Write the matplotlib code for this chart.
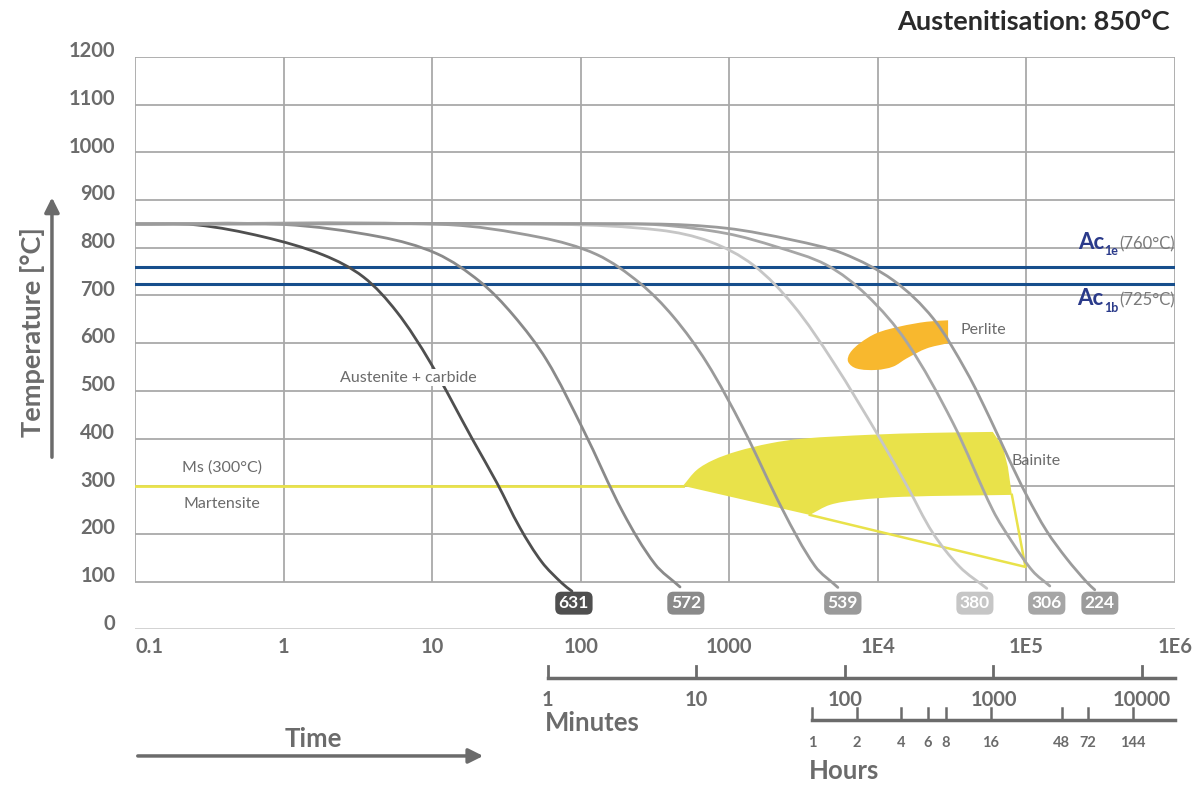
import numpy as np
import matplotlib.pyplot as plt
import matplotlib.transforms as mtransforms
from matplotlib.patches import FancyArrowPatch, PathPatch
from matplotlib.path import Path

plt.rcParams['font.family'] = ['Lato', 'DejaVu Sans']

# cooling curves: time [s], temperature [C]
t_631 = [0.1, 0.26, 0.73, 1.85, 3.44, 5.77, 9.66, 18.8, 27.3, 39.0, 54.8, 74.7, 87.3]
T_631 = [850, 848, 823, 785, 739, 666, 561, 397, 307, 213, 141, 97, 80]
t_572 = [0.1, 0.995, 4.45, 10.7, 21.0, 35.1, 58.9, 103.5, 192, 316, 466]
T_572 = [850, 849, 823, 788, 729, 659, 565, 420, 246, 137, 89]
t_539 = [0.1, 11.8, 53.1, 128, 250, 419, 703, 1233, 2294, 3770, 5380]
T_539 = [850, 849, 822, 786, 726, 656, 560, 423, 250, 133, 88]
t_380 = [0.1, 72, 341, 740, 1448, 2690, 5000, 10300, 15700, 23460, 35600, 54100]
T_380 = [850, 849, 837, 813, 764, 680, 561, 401, 301, 202, 131, 86]
t_306 = [0.1, 135, 341, 959, 2080, 4515, 8390, 15600, 32000, 59400, 81000, 110400, 143700]
T_306 = [850, 850, 848, 830, 802, 764, 701, 603, 433, 250, 181, 122, 91]
t_224 = [0.1, 292, 959, 2690, 5840, 12680, 23550, 39540, 56700, 77300, 100700, 137000,
         187000, 254700, 288400]
T_224 = [850, 850, 841, 816, 788, 732, 652, 540, 443, 353, 280, 206, 148, 99, 83]

hardness = ['631', '572', '539', '380', '306', '224']
hard_t = [90, 510, 5810, 45000, 137000, 312000]
curve_colors = ['#4f4f4f', '#8a8a8a', '#9a9a9a', '#c6c6c6', '#a6a6a6', '#9b9b9b']

# Ms line and transformation zones
ms_t = [0.1, 488]
ms_T = [300, 300]
bainite_top_t = [488, 603, 780, 1120, 1875, 3140, 8830, 22390, 59400]
bainite_top_T = [301, 334, 355, 373, 390, 400, 408, 412, 414]
bainite_right_t = [59400, 69400, 75000, 79800]
bainite_right_T = [414, 383, 341, 282]
bainite_low_t = [79800, 14800, 7190, 4750, 3485]
bainite_low_T = [282, 278, 271, 261, 240]
bainite_edge_t = [3485, 98500, 79800]
bainite_edge_T = [240, 131, 282]
perlite_t = [29700, 21300, 15600, 12680, 9800, 7190, 6310, 6480, 7570, 9800, 14060, 21300, 29700]
perlite_T = [600, 589, 568, 551, 544, 547, 561, 579, 600, 621, 635, 645, 648]

ac1e, ac1b = 760, 725

temp_ticks = list(range(0, 1300, 100))
time_ticks = [0.1, 1, 10, 100, 1e3, 1e4, 1e5, 1e6]
time_labels = ['0.1', '1', '10', '100', '1000', '1E4', '1E5', '1E6']
minute_ticks = [1, 10, 100, 1000, 10000]
hour_ticks = [1, 2, 4, 6, 8, 16, 48, 72, 144]

grey_txt = '#6b6b6b'
grid_c = '#a9a9a9'
navy = '#174e8c'
yellow = '#e9e24a'
orange = '#f8b82e'


def smooth(t, T, first=True):
    # bezier path through the read points (tangents taken in screen-like units)
    P = np.column_stack([np.log10(t) * 148.6, np.asarray(T, float) * 0.477])
    n = len(P)
    d = np.empty_like(P)
    d[1:-1] = P[2:] - P[:-2]
    d[0] = P[1] - P[0]
    d[-1] = P[-1] - P[-2]
    d /= np.linalg.norm(d, axis=1)[:, None]
    back = lambda p: (10 ** (p[0] / 148.6), p[1] / 0.477)
    verts, codes = [], []
    if first:
        verts.append((t[0], T[0]))
        codes.append(Path.MOVETO)
    for i in range(n - 1):
        L = np.linalg.norm(P[i + 1] - P[i])
        verts += [back(P[i] + d[i] * L / 3), back(P[i + 1] - d[i + 1] * L / 3), (t[i + 1], T[i + 1])]
        codes += [Path.CURVE4] * 3
    return verts, codes


fig = plt.figure(figsize=(12, 7.85), dpi=100)
ax = fig.add_axes([135 / 1200, 155.6 / 785, 1040 / 1200, 572.4 / 785])
ax.set_xscale('log')
ax.set_xlim(0.1, 1e6)
ax.set_ylim(0, 1200)
ax.axis('off')

# grid box (100..1200) and base line at 0
for T in temp_ticks[1:]:
    ax.plot([0.1, 1e6], [T, T], color=grid_c, lw=1.3, zorder=1, solid_capstyle='butt')
for t in time_ticks:
    ax.plot([t, t], [100, 1200], color=grid_c, lw=1.3, zorder=1, solid_capstyle='butt')
ax.plot([0.1, 1e6], [0, 0], color='#cfcfcf', lw=1.3, zorder=1)

# Ac1 lines
ax.plot([0.1, 1e6], [ac1e, ac1e], color=navy, lw=2.2, zorder=3)
ax.plot([0.1, 1e6], [ac1b, ac1b], color=navy, lw=2.2, zorder=3)

# bainite zone: curved top, straight right side, curved bottom, straight back to the nose
v1, c1 = smooth(bainite_top_t, bainite_top_T)
v2 = list(zip(bainite_right_t[1:], bainite_right_T[1:]))
v3, c3 = smooth(bainite_low_t, bainite_low_T, first=False)
verts = v1 + v2 + v3 + [(bainite_top_t[0], bainite_top_T[0])]
codes = c1 + [Path.LINETO] * len(v2) + c3 + [Path.LINETO]
ax.add_patch(PathPatch(Path(verts, codes), fc=yellow, ec='none', zorder=2))
ax.plot(bainite_edge_t, bainite_edge_T, color=yellow, lw=1.8, zorder=2)
ax.plot(ms_t, ms_T, color=yellow, lw=2, zorder=2)

# perlite zone
pv, pc = smooth(perlite_t, perlite_T)
ax.add_patch(PathPatch(Path(pv + [pv[0]], pc + [Path.LINETO]), fc=orange, ec='none', zorder=2))

# cooling curves
curves = [(t_631, T_631), (t_572, T_572), (t_539, T_539), (t_380, T_380), (t_306, T_306), (t_224, T_224)]
for (tt, TT), c in zip(curves, curve_colors):
    v, cd = smooth(tt, TT)
    ax.add_patch(PathPatch(Path(v, cd), fill=False, ec=c, lw=2, zorder=4, capstyle='round'))

for lab, t, c in zip(hardness, hard_t, curve_colors):
    ax.text(t, 55, lab, ha='center', va='center', color='white', fontsize=12.5, fontweight='bold', zorder=6,
            bbox=dict(boxstyle='round,pad=0.2,rounding_size=0.35', fc=c, ec='none'))

# zone labels
ax.text(6.9, 528, 'Austenite + carbide', ha='center', va='center', fontsize=11.5, color=grey_txt, zorder=5,
        bbox=dict(boxstyle='square,pad=0.1', fc='white', ec='none'))
ax.text(0.385, 340, 'Ms (300°C)', ha='center', va='center', fontsize=11.5, color=grey_txt, zorder=5)
ax.text(0.385, 263, 'Martensite', ha='center', va='center', fontsize=11.5, color=grey_txt, zorder=5)
ax.text(36000, 628, 'Perlite', ha='left', va='center', fontsize=11.5, color=grey_txt, zorder=5)
ax.text(79000, 353, 'Bainite', ha='left', va='center', fontsize=11.5, color=grey_txt, zorder=5)

# Ac labels
for yv, sub, val in [(808, '1e', '(760°C)'), (690, '1b', '(725°C)')]:
    a3 = ax.annotate(val, xy=(1.0, yv), xycoords=('axes fraction', 'data'), ha='right', va='center',
                     fontsize=12, color='#7a7a7a', zorder=5)
    a2 = ax.annotate(sub, xy=(0, 0.05), xycoords=a3, xytext=(-1, 0), textcoords='offset points',
                     ha='right', va='center', fontsize=9, fontweight='bold', color='#2a3a8a', zorder=5)
    ax.annotate('Ac', xy=(0, 0.5), xycoords=(a2, a3), xytext=(0, 1), textcoords='offset points',
                ha='right', va='center', fontsize=16, fontweight='bold', color='#2a3a8a', zorder=5)

# y tick labels
ytrans = mtransforms.blended_transform_factory(ax.transAxes, ax.transData)
for T in temp_ticks:
    ax.text(-0.019, T + 12, str(T), transform=ytrans, ha='right', va='center',
            fontsize=14.5, fontweight='bold', color=grey_txt)

# x axes (seconds, minutes, hours) drawn in figure coords
xtrans = mtransforms.blended_transform_factory(ax.transData, fig.transFigure)
for t, lab in zip(time_ticks, time_labels):
    ax.text(t, 0.176, lab, transform=xtrans, ha='left' if t == 0.1 else 'center', va='center',
            fontsize=14.5, fontweight='bold', color=grey_txt, clip_on=False)

y_min = (785 - 678) / 785
ax.plot([60, 1e6], [y_min, y_min], transform=xtrans, color=grey_txt, lw=2.5, clip_on=False)
for m in minute_ticks:
    ax.plot([m * 60, m * 60], [y_min, y_min + 12 / 785], transform=xtrans, color=grey_txt, lw=2, clip_on=False)
    ax.text(m * 60, 0.1, str(m), transform=xtrans, ha='center', va='baseline',
            fontsize=14.5, fontweight='bold', color=grey_txt, clip_on=False)
ax.text(57, 0.069, 'Minutes', transform=xtrans, ha='left', va='baseline',
        fontsize=18.5, fontweight='bold', color=grey_txt, clip_on=False)

y_hr = (785 - 720) / 785
ax.plot([3600, 1e6], [y_hr, y_hr], transform=xtrans, color=grey_txt, lw=2.5, clip_on=False)
for h in hour_ticks:
    ax.plot([h * 3600, h * 3600], [y_hr, y_hr + 12 / 785], transform=xtrans, color=grey_txt, lw=1.8, clip_on=False)
    ax.text(h * 3600, 0.054, str(h), transform=xtrans, ha='center', va='center',
            fontsize=10.5, fontweight='bold', color=grey_txt, clip_on=False)
ax.text(3450, 0.008, 'Hours', transform=xtrans, ha='left', va='baseline',
        fontsize=18.5, fontweight='bold', color=grey_txt, clip_on=False)

# axis titles with arrows
fig.text(0.2608, 0.049, 'Time', ha='center', va='baseline', fontsize=18.5, fontweight='bold', color=grey_txt)
fig.add_artist(FancyArrowPatch((0.1125, 0.037), (0.405, 0.037), transform=fig.transFigure,
                               arrowstyle='-|>', mutation_scale=22, lw=2.5, color=grey_txt))
fig.text(0.0275, 0.577, 'Temperature [°C]', ha='center', va='center', rotation=90,
         fontsize=19.5, fontweight='bold', color=grey_txt)
fig.add_artist(FancyArrowPatch((0.0433, 0.414), (0.0433, 0.752), transform=fig.transFigure,
                               arrowstyle='-|>', mutation_scale=22, lw=2.5, color=grey_txt))

fig.text(0.975, 0.972, 'Austenitisation: 850°C', ha='right', va='center',
         fontsize=19.5, fontweight='bold', color='#2a2a2a')

fig.savefig('out.png', dpi=100)
